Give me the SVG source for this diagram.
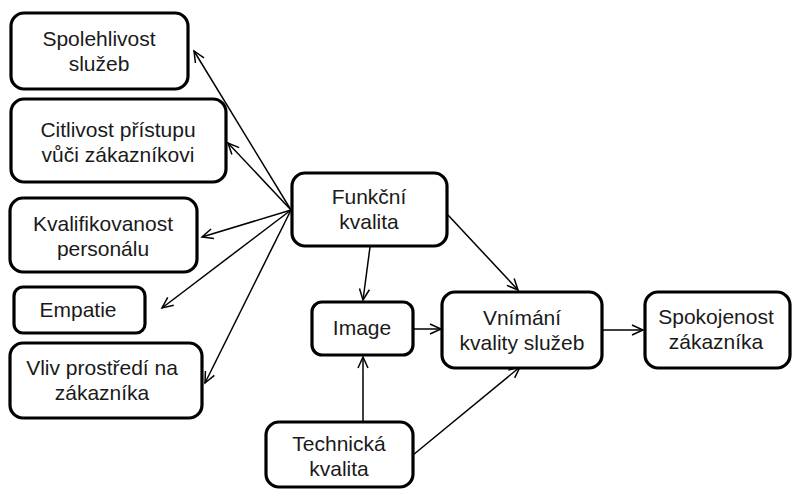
<svg xmlns="http://www.w3.org/2000/svg" width="793" height="490" viewBox="0 0 793 490">
<defs>
<marker id="arr" markerUnits="userSpaceOnUse" markerWidth="16" markerHeight="14" viewBox="-13 -7 15 14" refX="0" refY="0" orient="auto">
<path d="M-11,-5 L0,0 L-11,5" fill="none" stroke="#000" stroke-width="1.5"/>
</marker>
</defs>
<style>
.box{fill:#fff;stroke:#000;stroke-width:3.2}
.t{font-family:"Liberation Sans",Arial,sans-serif;font-size:21px;fill:#1a1a1a;text-anchor:middle}
.c{stroke:#000;stroke-width:1.5;fill:none;marker-end:url(#arr)}
</style>
<rect width="793" height="490" fill="#fff"/>
<g id="connectors">
<line class="c" x1="291" y1="210" x2="194" y2="51"/>
<line class="c" x1="291" y1="210" x2="228" y2="143"/>
<line class="c" x1="291" y1="210" x2="202" y2="237"/>
<line class="c" x1="291" y1="210" x2="162" y2="308"/>
<line class="c" x1="291" y1="210" x2="205" y2="383"/>
<line class="c" x1="370" y1="247" x2="363" y2="300"/>
<line class="c" x1="448" y1="215" x2="518" y2="290"/>
<line class="c" x1="413" y1="329" x2="441" y2="329"/>
<line class="c" x1="363" y1="421" x2="363" y2="357"/>
<line class="c" x1="413" y1="455" x2="520" y2="367"/>
<line class="c" x1="602" y1="330" x2="643" y2="330"/>
</g>
<g id="spolehlivost">
<rect class="box" x="11" y="13" width="177" height="76" rx="13"/>
<text class="t" x="99" y="46">Spolehlivost</text>
<text class="t" x="99" y="71">služeb</text>
</g>
<g id="citlivost">
<rect class="box" x="11" y="99" width="215" height="83" rx="13"/>
<text class="t" x="118" y="137">Citlivost přístupu</text>
<text class="t" x="118" y="162">vůči zákazníkovi</text>
</g>
<g id="kvalifikovanost">
<rect class="box" x="10" y="198" width="187" height="74" rx="13"/>
<text class="t" x="103" y="231">Kvalifikovanost</text>
<text class="t" x="103" y="256">personálu</text>
</g>
<g id="empatie">
<rect class="box" x="14" y="287" width="131" height="46" rx="9"/>
<text class="t" x="78" y="317">Empatie</text>
</g>
<g id="vliv">
<rect class="box" x="10" y="343" width="192" height="75" rx="13"/>
<text class="t" x="102" y="375">Vliv prostředí na</text>
<text class="t" x="102" y="400">zákazníka</text>
</g>
<g id="funkcni">
<rect class="box" x="292" y="173" width="155" height="73" rx="13"/>
<text class="t" x="369" y="204">Funkční</text>
<text class="t" x="369" y="229">kvalita</text>
</g>
<g id="image">
<rect class="box" x="312" y="302" width="101" height="53" rx="10"/>
<text class="t" x="362" y="335">Image</text>
</g>
<g id="vnimani">
<rect class="box" x="442" y="292" width="160" height="76" rx="13"/>
<text class="t" x="522" y="325">Vnímání</text>
<text class="t" x="522" y="350">kvality služeb</text>
</g>
<g id="spokojenost">
<rect class="box" x="645" y="292" width="145" height="76" rx="13"/>
<text class="t" x="716" y="324">Spokojenost</text>
<text class="t" x="716" y="349">zákazníka</text>
</g>
<g id="technicka">
<rect class="box" x="266" y="422" width="147" height="65" rx="13"/>
<text class="t" x="339" y="451">Technická</text>
<text class="t" x="339" y="476">kvalita</text>
</g>
</svg>
